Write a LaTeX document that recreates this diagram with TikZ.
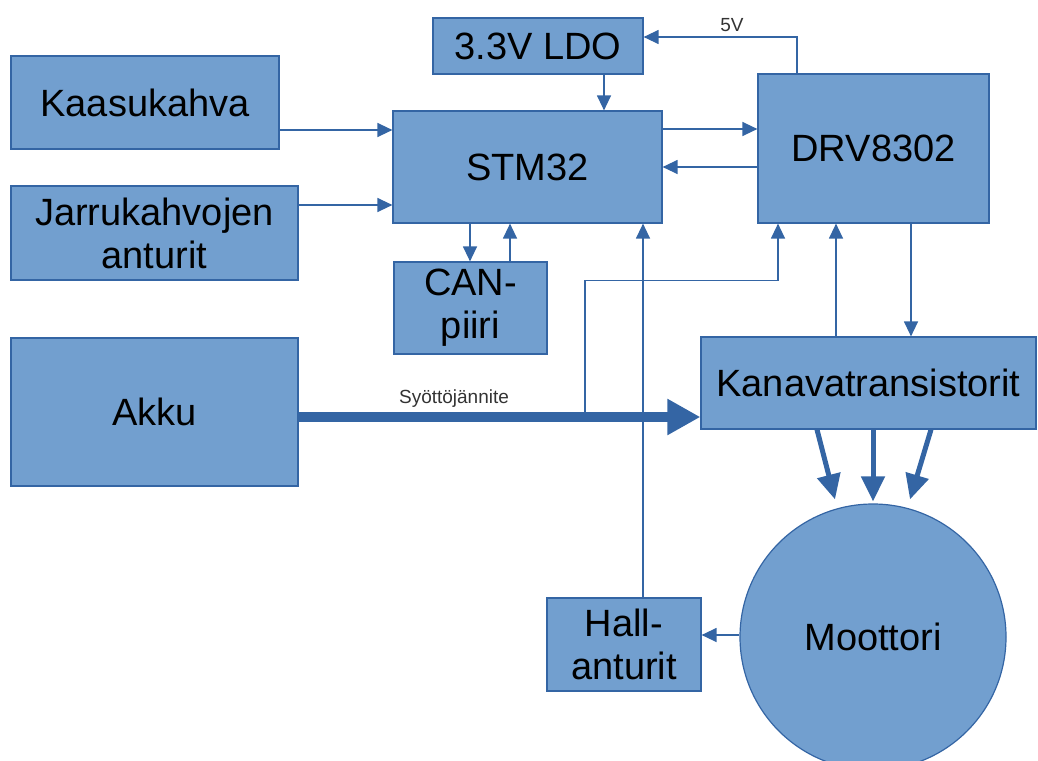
\documentclass[tikz,border=0pt]{standalone}
\usepackage{fontspec}
\setmainfont{Liberation Sans}
\usetikzlibrary{arrows.meta,calc}
\definecolor{boxfill}{HTML}{729FCF}
\definecolor{boxline}{HTML}{3465A4}
\begin{document}
\begin{tikzpicture}[x=1pt,y=-1pt,
  blk/.style={draw=boxline, fill=boxfill, line width=1.2pt, inner sep=0pt,
              align=center, font=\fontsize{38}{43}\selectfont},
  arr/.style={draw=boxline, line width=1.3pt, -{Triangle[length=15pt,width=14pt]}},
  bigarr/.style={draw=boxline, line width=10pt, -{Triangle[length=33pt,width=34pt]}},
  motarr/.style={draw=boxline, line width=5pt, -{Triangle[length=25pt,width=23pt]}},
  lbl/.style={font=\fontsize{19}{22}\selectfont, text=black!80, inner sep=0pt}]
\useasboundingbox (0,0) rectangle (1038,760);

% blocks
\node[blk, minimum width=210pt, minimum height=56pt] (ldo) at (538,46) {3.3V LDO};
\node[blk, minimum width=268pt, minimum height=93pt] (kaasu) at (145,102.5) {Kaasukahva};
\node[blk, minimum width=287pt, minimum height=94pt] (jarru) at (154.5,233) {Jarrukahvojen\\anturit};
\node[blk, minimum width=269pt, minimum height=112pt] (stm) at (527.5,167) {STM32};
\node[blk, minimum width=231pt, minimum height=149pt] (drv) at (873.5,148.5) {DRV8302};
\node[blk, minimum width=153pt, minimum height=92pt] (can) at (470.5,308) {CAN-\\piiri};
\node[blk, minimum width=287pt, minimum height=148pt] (akku) at (154.5,412) {Akku};
\node[blk, minimum width=335pt, minimum height=92pt] (kana) at (868.5,383) {Kanavatransistorit};
\node[blk, minimum width=154pt, minimum height=93pt] (hall) at (624,644.5) {Hall-\\anturit};
\node[blk, circle, minimum size=266pt] (moot) at (873,637) {Moottori};

% labels
\node[lbl] (v5) at (732,25) {5V};
\node[lbl] (syot) at (454,399) {Syöttöjännite};

% connectors
\draw[arr] ([yshift=-27.5pt]kaasu.east) -- ([yshift=37pt]stm.west);
\draw[arr] ([yshift=28pt]jarru.east) -- ([yshift=-38pt]stm.west);
\draw[arr] ([xshift=66pt]ldo.south) -- ([xshift=76.5pt]stm.north);
\draw[arr] ([xshift=-76.5pt]drv.north) |- ([yshift=9pt]ldo.east);
\draw[arr] ([yshift=38pt]stm.east) -- ([yshift=19.5pt]drv.west);
\draw[arr] ([yshift=-18.5pt]drv.west) -- (stm.east);
\draw[arr] ([xshift=-57.5pt]stm.south) -- ([xshift=-0.5pt]can.north);
\draw[arr] ([xshift=39.5pt]can.north) -- ([xshift=-17.5pt]stm.south);
\draw[arr] ([xshift=19pt]hall.north) -- ([xshift=115.5pt]stm.south);
\draw[arr] ([xshift=-32.5pt]kana.north) -- ([xshift=-37.5pt]drv.south);
\draw[arr] ([xshift=37.5pt]drv.south) -- ([xshift=42.5pt]kana.north);
\draw[arr] ([yshift=2pt]moot.west) -- ([yshift=9.5pt]hall.east);

% supply
\draw[bigarr] ([yshift=-5pt]akku.east) -- ([yshift=-34pt]kana.west);
\coordinate (tap) at (585,414);
\draw[arr] (tap) |- ([xshift=-95.5pt,yshift=-57pt]drv.south) -- ([xshift=-95.5pt]drv.south);

% motor phases
\draw[motarr] ([xshift=-51.5pt]kana.south) -- ([xshift=-38pt,yshift=4pt]moot.north);
\draw[motarr] ([xshift=4.5pt]kana.south) -- ([yshift=2pt]moot.north);
\draw[motarr] ([xshift=62.5pt]kana.south) -- ([xshift=37pt,yshift=4pt]moot.north);
\end{tikzpicture}
\end{document}
